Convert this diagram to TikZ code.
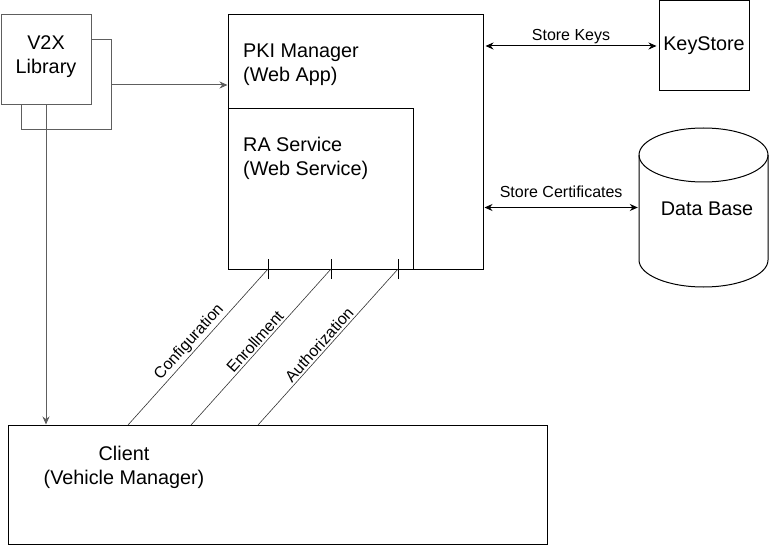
\documentclass[tikz,border=0pt]{standalone}
\usepackage{fontspec}
\setmainfont{Liberation Sans}
\usetikzlibrary{arrows.meta}
\definecolor{v2xgray}{HTML}{5E5E5E}
\definecolor{thin}{HTML}{333333}
\tikzset{
  box/.style={draw=black, line width=1pt, fill=white, inner sep=0pt, minimum width=#1},
  maintxt/.style={font=\fontsize{19.8}{24}\selectfont, inner sep=0pt},
  lbl/.style={font=\fontsize{16}{18}\selectfont, inner sep=2pt},
  arr/.style={line width=1pt, -{Stealth[length=8pt,width=7pt]}},
  darr/.style={line width=1pt, {Stealth[length=8pt,width=7pt]}-{Stealth[length=8pt,width=7pt]}},
  tick/.style={line width=1pt},
  diag/.style={draw=thin, line width=0.6pt}
}
\begin{document}
\begin{tikzpicture}[x=1pt, y=-1pt]
\useasboundingbox (0,0) rectangle (770,545);
% V2X library (stacked boxes)
\node[box=90pt, minimum height=90pt, draw=v2xgray] (v2xback) at (66,85) {};
\node[box=90pt, minimum height=90pt, draw=v2xgray] (v2x) at (46,60) {};
\node[maintxt, align=center] (v2xtxt) at (46,57) {V2X\\Library};
% PKI manager and RA service
\node[box=255pt, minimum height=254pt] (pki) at (355.5,142) {};
\node[box=185pt, minimum height=160pt] (ra) at (320.5,189) {};
\node[maintxt, align=left, anchor=west] (pkitxt) at (243,64.5) {PKI Manager\\(Web App)};
\node[maintxt, align=left, anchor=west] (ratxt) at (243,158) {RA Service\\(Web Service)};
% KeyStore
\node[box=90pt, minimum height=90pt, maintxt] (ks) at (704,46) {KeyStore};
% Data base cylinder
\node[minimum width=129pt, minimum height=159pt, inner sep=0pt] (db) at (703.5,207.5) {};
\draw[line width=1pt, fill=white] (639,155) -- (639,260) arc[start angle=180, end angle=360, x radius=64.5, y radius=-27] -- (768,155) arc[start angle=0, end angle=180, x radius=64.5, y radius=-27] -- cycle;
\draw[line width=1pt] (639,155) arc[start angle=180, end angle=360, x radius=64.5, y radius=-27];
\node[maintxt] (dbtxt) at (707,209) {Data Base};
% Client
\node[box=539pt, minimum height=119pt] (client) at (277.5,484.5) {};
\node[maintxt, align=center] (clienttxt) at (124,467) {Client\\(Vehicle Manager)};
% Connectors
\draw[arr, draw=v2xgray] (v2xback.east) -- (pki.west |- v2xback.east);
\draw[arr, draw=v2xgray] (v2x.south) -- (v2x.south |- client.north);
\draw[darr] ([xshift=2pt]pki.east |- ks.west) -- node[lbl, above] {Store Keys} ([xshift=-2pt]ks.west);
\draw[darr] ([xshift=1pt]pki.east |- db.west) -- node[lbl, above, yshift=7pt] {Store Certificates} ([xshift=-1pt]db.west);
% interface links
\coordinate (t1) at (268,269);
\coordinate (t2) at (331,269);
\coordinate (t3) at (398,269);
\coordinate (c1) at (128,425);
\coordinate (c2) at (191,425);
\coordinate (c3) at (258,425);
\foreach \t in {t1,t2,t3}{
  \draw[tick] ([yshift=-10pt]\t) -- ([yshift=10pt]\t);
}
\draw[diag] (c1) -- node[lbl, sloped, above, pos=0.49] {Configuration} (t1);
\draw[diag] (c2) -- node[lbl, sloped, above, pos=0.5] {Enrollment} (t2);
\draw[diag] (c3) -- node[lbl, sloped, above, pos=0.48] {Authorization} (t3);
\end{tikzpicture}
\end{document}
